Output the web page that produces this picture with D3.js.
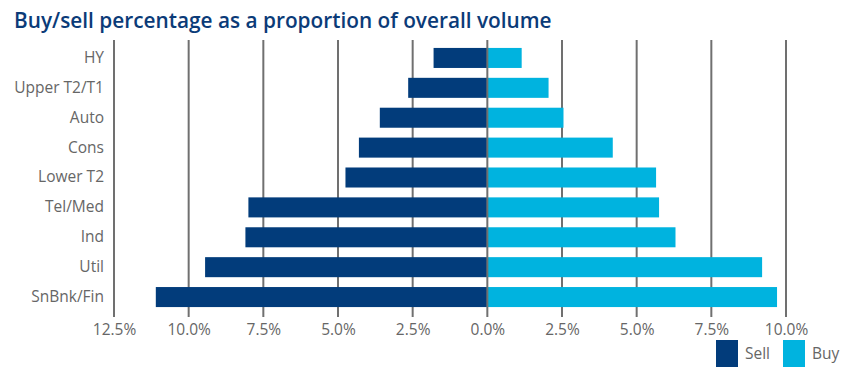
<!DOCTYPE html>
<html>
<head>
<meta charset="utf-8">
<script src="https://cdn.jsdelivr.net/npm/d3@7"></script>
<style>
  body { margin: 0; background: #fff; }
  text { font-family: 'Open Sans', sans-serif; }
</style>
</head>
<body>
<svg id="chart" width="858" height="373"></svg>
<script>
// chart data
const categories = ['HY', 'Upper T2/T1', 'Auto', 'Cons', 'Lower T2', 'Tel/Med', 'Ind', 'Util', 'SnBnk/Fin'];
const sellValues = [1.8, 2.65, 3.6, 4.3, 4.75, 8.0, 8.1, 9.45, 11.1];
const buyValues = [1.15, 2.05, 2.55, 4.2, 5.65, 5.75, 6.3, 9.2, 9.7];
const tickValues = [-12.5, -10, -7.5, -5, -2.5, 0, 2.5, 5, 7.5, 10];
const seriesNames = ['Sell', 'Buy'];

const colors = { Sell: '#023c7b', Buy: '#00b3df' };
const gridColor = '#707070';
const textColor = '#666';
const labelSize = 15.5;

const svg = d3.select('#chart');

const x = d3.scaleLinear().domain([-12.5, 10]).range([114, 786]);
const y = d3.scaleBand().domain(categories).range([43, 312]).paddingInner(0.33).paddingOuter(0.165);

svg.append('text')
  .attr('x', 14)
  .attr('y', 28)
  .attr('fill', '#0b3b78')
  .attr('font-size', 20.8)
  .attr('font-weight', 600)
  .text('Buy/sell percentage as a proportion of overall volume');

// grid lines behind bars
svg.append('g')
  .selectAll('line')
  .data(tickValues.filter(d => d !== 0))
  .join('line')
  .attr('x1', d => x(d))
  .attr('x2', d => x(d))
  .attr('y1', 40)
  .attr('y2', 317)
  .attr('stroke', gridColor)
  .attr('stroke-width', 2);

const rows = categories.map((c, i) => ({ cat: c, sell: sellValues[i], buy: buyValues[i] }));

svg.append('g')
  .selectAll('rect')
  .data(rows)
  .join('rect')
  .attr('x', d => x(-d.sell))
  .attr('y', d => y(d.cat))
  .attr('width', d => x(0) - x(-d.sell))
  .attr('height', y.bandwidth())
  .attr('fill', colors.Sell);

svg.append('g')
  .selectAll('rect')
  .data(rows)
  .join('rect')
  .attr('x', x(0))
  .attr('y', d => y(d.cat))
  .attr('width', d => x(d.buy) - x(0))
  .attr('height', y.bandwidth())
  .attr('fill', colors.Buy);

// zero line sits on top of the bars
svg.append('line')
  .attr('x1', x(0))
  .attr('x2', x(0))
  .attr('y1', 40)
  .attr('y2', 317)
  .attr('stroke', gridColor)
  .attr('stroke-width', 2);

// category axis
const yAxis = svg.append('g')
  .attr('transform', 'translate(104,0)')
  .call(d3.axisLeft(y).tickSize(0).tickPadding(0));
yAxis.select('.domain').remove();
yAxis.selectAll('text')
  .attr('fill', textColor)
  .attr('font-size', labelSize)
  .attr('font-family', "'Open Sans', sans-serif");

// value axis
const xAxis = svg.append('g')
  .attr('transform', 'translate(0,317)')
  .call(d3.axisBottom(x)
    .tickValues(tickValues)
    .tickSize(0)
    .tickPadding(7)
    .tickFormat(d => Math.abs(d).toFixed(1) + '%'));
xAxis.select('.domain').remove();
xAxis.selectAll('text')
  .attr('fill', textColor)
  .attr('font-size', labelSize)
  .attr('font-family', "'Open Sans', sans-serif");

// legend
const legend = svg.append('g')
  .selectAll('g')
  .data(seriesNames)
  .join('g')
  .attr('transform', (d, i) => `translate(${716 + i * 67},340)`);
legend.append('rect')
  .attr('width', 22)
  .attr('height', 27)
  .attr('fill', d => colors[d]);
legend.append('text')
  .attr('x', 29)
  .attr('y', 19)
  .attr('fill', textColor)
  .attr('font-size', labelSize)
  .text(d => d);
</script>
</body>
</html>
